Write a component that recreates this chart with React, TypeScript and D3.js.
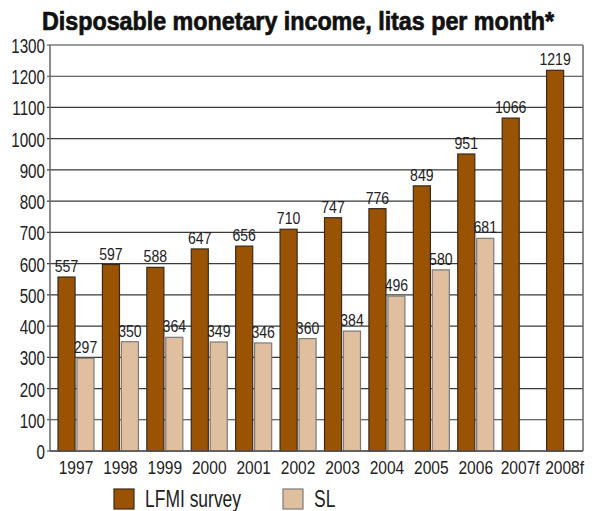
import { useEffect, useRef } from "react";
import * as d3 from "d3";

const years = ["1997", "1998", "1999", "2000", "2001", "2002", "2003", "2004", "2005", "2006", "2007f", "2008f"];
const lfmiValues = [557, 597, 588, 647, 656, 710, 747, 776, 849, 951, 1066, 1219];
const slValues: (number | null)[] = [297, 350, 364, 349, 346, 360, 384, 496, 580, 681, null, null];
const yTicks = [0, 100, 200, 300, 400, 500, 600, 700, 800, 900, 1000, 1100, 1200, 1300];
const seriesNames = ["LFMI survey", "SL"];

const colors = {
  lfmi: "#9a5203",
  lfmiStroke: "#3a2a1a",
  sl: "#e0bf9f",
  slStroke: "#7a7a7a",
  grid: "#3a3a3a",
  text: "#222",
};

const font = "'Liberation Sans', Arial, sans-serif";

type Sel = d3.Selection<any, any, any, any>;

// condensed text: squeeze Liberation Sans horizontally
function narrowText(
  parent: Sel,
  x: number,
  y: number,
  txt: string | number,
  size: number,
  anchor: string,
  sx = 0.8,
) {
  return parent
    .append("text")
    .attr("transform", `translate(${x},${y}) scale(${sx},1)`)
    .attr("text-anchor", anchor)
    .attr("font-size", size)
    .attr("fill", colors.text)
    .text(txt);
}

export default function App() {
  const svgRef = useRef<SVGSVGElement>(null);

  useEffect(() => {
    document.body.style.margin = "0";
    if (!svgRef.current) return;
    const svg = d3.select(svgRef.current);
    svg.selectAll("*").remove();

    const width = 597;
    const height = 511;
    const left = 50;
    const right = 583;
    const top = 45;
    const bottom = 451;

    svg.attr("width", width).attr("height", height).style("font-family", font);

    // title (heavy condensed look)
    svg
      .append("text")
      .attr("x", 298)
      .attr("y", 30)
      .attr("text-anchor", "middle")
      .attr("font-size", 25)
      .attr("font-weight", "bold")
      .attr("fill", "#111")
      .attr("stroke", "#111")
      .attr("stroke-width", 0.7)
      .attr("textLength", 512)
      .attr("lengthAdjust", "spacingAndGlyphs")
      .text("Disposable monetary income, litas per month*");

    const y = d3.scaleLinear().domain([0, 1300]).range([bottom, top]);
    const x = d3.scaleBand().domain(years).range([left, right]).padding(0);
    const groupOffset = 8;
    const groupWidth = 36;
    const sub = d3.scaleBand().domain(["lfmi", "sl"]).range([0, groupWidth]).paddingInner(0.1);

    // gridlines + ticks
    const g = svg.append("g");
    g.selectAll("line.grid")
      .data(yTicks)
      .join("line")
      .attr("class", "grid")
      .attr("x1", left - 3)
      .attr("x2", right)
      .attr("y1", (d) => y(d))
      .attr("y2", (d) => y(d))
      .attr("stroke", colors.grid)
      .attr("stroke-width", 1.2);

    yTicks.forEach((t) => narrowText(g, left - 5, y(t) + 8, t, 19.5, "end", 0.78));

    // frame
    [left, right].forEach((xx) =>
      g
        .append("line")
        .attr("x1", xx)
        .attr("x2", xx)
        .attr("y1", top)
        .attr("y2", bottom)
        .attr("stroke", "#666")
        .attr("stroke-width", 1.5),
    );

    const data = years.map((yr, i) => ({ year: yr, lfmi: lfmiValues[i], sl: slValues[i] }));

    const groups = svg
      .append("g")
      .selectAll("g")
      .data(data)
      .join("g")
      .attr("transform", (d) => `translate(${x(d.year)! + groupOffset},0)`);

    groups
      .append("rect")
      .attr("x", sub("lfmi")!)
      .attr("width", sub.bandwidth())
      .attr("y", (d) => y(d.lfmi))
      .attr("height", (d) => bottom - y(d.lfmi))
      .attr("fill", colors.lfmi)
      .attr("stroke", colors.lfmiStroke)
      .attr("stroke-width", 1.2);

    groups
      .filter((d) => d.sl != null)
      .append("rect")
      .attr("x", sub("sl")!)
      .attr("width", sub.bandwidth())
      .attr("y", (d) => y(d.sl!))
      .attr("height", (d) => bottom - y(d.sl!))
      .attr("fill", colors.sl)
      .attr("stroke", colors.slStroke)
      .attr("stroke-width", 1.2);

    groups.each(function (d) {
      const gg = d3.select(this);
      narrowText(gg, sub("lfmi")! + sub.bandwidth() / 2, y(d.lfmi) - 5, d.lfmi, 16, "middle", 0.88);
      if (d.sl != null) {
        narrowText(gg, sub("sl")! + sub.bandwidth() / 2, y(d.sl) - 5, d.sl, 16, "middle", 0.88);
      }
      narrowText(gg, groupWidth / 2, bottom + 23, d.year, 18.5, "middle", 0.84);
    });

    // baseline
    svg
      .append("line")
      .attr("x1", left)
      .attr("x2", right)
      .attr("y1", bottom)
      .attr("y2", bottom)
      .attr("stroke", "#555")
      .attr("stroke-width", 1.5);

    // legend
    const legend = svg.append("g");
    const legendX = [114, 283];
    const legendFill = [colors.lfmi, colors.sl];
    const legendStroke = [colors.lfmiStroke, colors.slStroke];
    seriesNames.forEach((name, i) => {
      legend
        .append("rect")
        .attr("x", legendX[i])
        .attr("y", 489)
        .attr("width", 20)
        .attr("height", 20)
        .attr("fill", legendFill[i])
        .attr("stroke", legendStroke[i])
        .attr("stroke-width", 1.2);
      narrowText(legend, legendX[i] + 31, 507, name, 23, "start", 0.76);
    });
  }, []);

  return (
    <div style={{ background: "#fff", width: 597, height: 511 }}>
      <svg ref={svgRef} style={{ display: "block" }} />
    </div>
  );
}
